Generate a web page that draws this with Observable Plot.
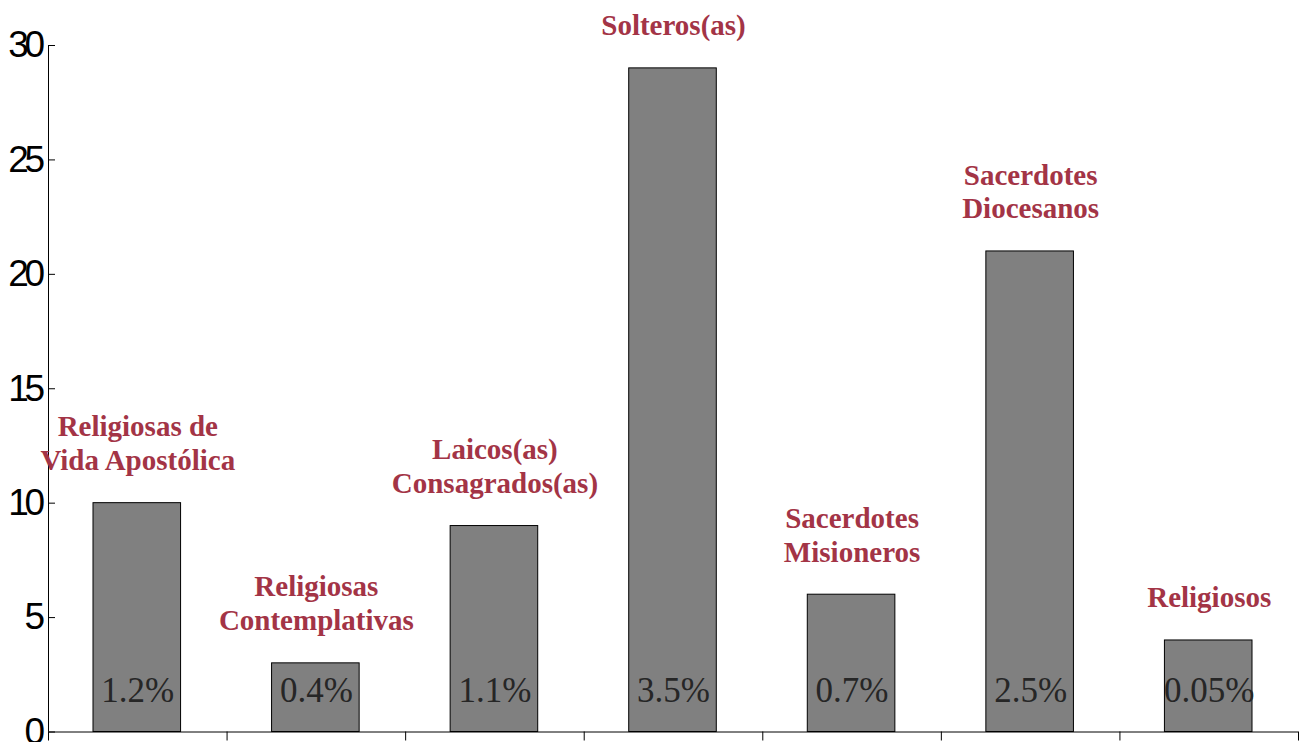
<!DOCTYPE html>
<html>
<head>
<meta charset="utf-8">
<script src="https://cdn.jsdelivr.net/npm/d3@7"></script>
<script src="https://cdn.jsdelivr.net/npm/@observablehq/plot@0.6"></script>
<style>
  html, body { margin: 0; padding: 0; background: #fff; overflow: hidden; }
  #chart svg { display: block; }
  #chart g[aria-label="y-axis tick label"] text { letter-spacing: -4.5px; }
</style>
</head>
<body>
<div id="chart"></div>
<script>
const categories = [
  "Religiosas de\nVida Apostólica",
  "Religiosas\nContemplativas",
  "Laicos(as)\nConsagrados(as)",
  "Solteros(as)",
  "Sacerdotes\nMisioneros",
  "Sacerdotes\nDiocesanos",
  "Religiosos"
];
const values = [10, 3, 9, 29, 6, 21, 4];
const percents = ["1.2%", "0.4%", "1.1%", "3.5%", "0.7%", "2.5%", "0.05%"];
const yTicks = [0, 5, 10, 15, 20, 25, 30];

const data = categories.map((c, i) => ({idx: i, cat: c, value: values[i], pct: percents[i]}));

const chart = Plot.plot({
  width: 1301,
  height: 742,
  marginLeft: 48,
  marginRight: 3,
  marginTop: 45,
  marginBottom: 10.5,
  x: {type: "linear", domain: [0, categories.length]},
  y: {domain: [0, 30]},
  style: {background: "#fff"},
  marks: [
    Plot.rectY(data, {
      x1: "idx", x2: d => d.idx + 1, y: "value",
      insetLeft: 45, insetRight: 46,
      fill: "#808080", stroke: "#000", strokeWidth: 1
    }),
    Plot.ruleY([0], {stroke: "#000", strokeWidth: 1}),
    Plot.ruleX([0], {stroke: "#000", strokeWidth: 1}),
    Plot.axisX({
      ticks: d3.range(0, categories.length + 1),
      tickFormat: () => "",
      tickSize: 9,
      label: null,
      stroke: "#000"
    }),
    Plot.axisY({
      ticks: yTicks,
      tickSize: -7,
      tickPadding: 15,
      label: null,
      fontSize: 37,
      fontFamily: "'Liberation Sans', Arial, sans-serif",
      fill: "#000",
      stroke: "#000"
    }),
    Plot.text(data, {
      x: d => d.idx + 0.5, y: "value", text: "cat",
      lineAnchor: "bottom", dy: -33, lineHeight: 1.17,
      fontSize: 29, fontWeight: "bold",
      fontFamily: "'Liberation Serif', 'Times New Roman', serif",
      fill: "#a33446"
    }),
    Plot.text(data, {
      x: d => d.idx + 0.5, y: 0, text: "pct",
      lineAnchor: "middle", dy: -41,
      fontSize: 35,
      fontFamily: "'Liberation Serif', 'Times New Roman', serif",
      fill: "#262626"
    })
  ]
});
document.getElementById("chart").append(chart);
</script>
</body>
</html>
